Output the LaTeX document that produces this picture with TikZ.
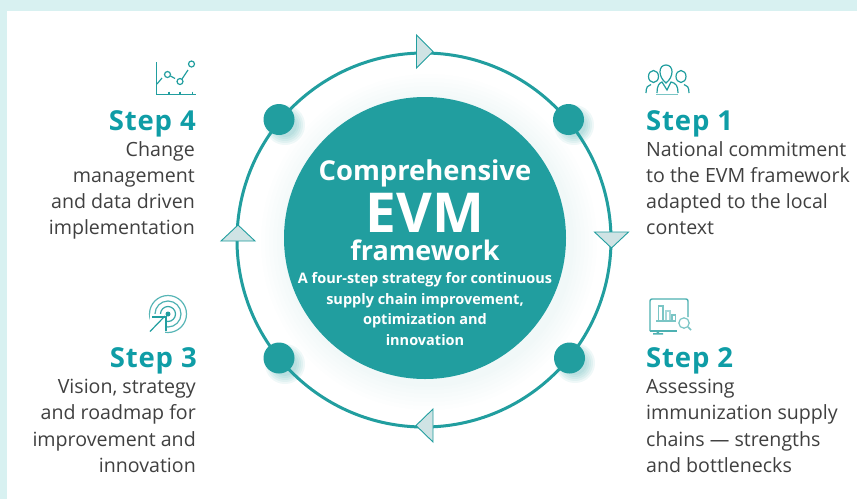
\documentclass[tikz,border=0pt]{standalone}
\usepackage{fontspec}
\setmainfont{Open Sans}
\newfontfamily\stepfont[LetterSpace=3]{Open Sans}
\usetikzlibrary{shapes.geometric}
\definecolor{teal1}{HTML}{219E9F}
\definecolor{band}{HTML}{D8F1F1}
\definecolor{tri}{HTML}{CFE3E4}
\definecolor{body}{HTML}{404040}
\definecolor{stepc}{HTML}{0F9DA6}
\tikzset{
  ring/.style={circle,draw=teal1,line width=3pt,minimum size=374pt,inner sep=0pt},
  disc/.style={circle,fill=teal1,minimum size=282pt,inner sep=0pt},
  dot/.style={circle,fill=teal1,minimum size=31pt,inner sep=0pt},
  steptitle/.style={font=\stepfont\bfseries\fontsize{27.5}{27.5}\selectfont,text=stepc,inner sep=0pt},
  bodyR/.style={font=\fontsize{19.6}{26.3}\selectfont,text=body,align=right,anchor=north east,inner sep=0pt},
  bodyL/.style={font=\fontsize{19.6}{26.3}\selectfont,text=body,align=left,anchor=north west,inner sep=0pt},
  tritri/.style={fill=tri,draw=teal1,line width=0.9pt,line join=miter},
  icon/.style={draw=teal1,line width=1.2pt,fill=none},
  iconl/.style={draw=teal1!60,line width=1.2pt,fill=none},
  dtext/.style={text=white,font=\bfseries,inner sep=0pt,align=center},
}
\begin{document}
\begin{tikzpicture}[x=1pt,y=-1pt]
\useasboundingbox (0,0) rectangle (857,499);
\fill[band] (0,0) rectangle (857,499);
\fill[white] (7,11) rectangle (857,499);
% disc glow
\foreach \r in {168,164,160,156,152,148,145}{\fill[teal1,opacity=0.008] (429,242) circle (\r pt);}
% ring
\node[ring] (ringc) at (424,240) {};
% dot shadows
\foreach \p in {(574,125),(575,363),(285,364),(285,125)}{
 \foreach \r in {20,18,16,14,12}{\fill[teal1,opacity=0.07] \p circle (\r pt);}
}
\node[disc] (core) at (425,238) {};
\node[dot] (d1) at (568.5,119.5) {};
\node[dot] (d2) at (569.5,358) {};
\node[dot] (d3) at (279,358) {};
\node[dot] (d4) at (279,119.5) {};
% triangles
\fill[tritri] (416.5,35) -- (433,51.5) -- (416.5,68) -- cycle;
\fill[tritri] (594.5,232) -- (628.5,232) -- (611.5,248) -- cycle;
\fill[tritri] (433,409) -- (433,442) -- (416,425.5) -- cycle;
\fill[tritri] (221,241) -- (255,241) -- (238,225) -- cycle;
% centre text
\node[dtext,font=\bfseries\fontsize{27.4}{27.4}\selectfont] (t1) at (425,173) {Comprehensive};
\node[dtext,font=\bfseries\fontsize{55}{55}\selectfont,text height=39pt,text depth=0pt,anchor=base] (t2) at (425,232) {EVM};
\node[dtext,font=\bfseries\fontsize{27}{27}\selectfont] (t3) at (425,250) {framework};
\node[dtext,font=\bfseries\fontsize{14.5}{20.7}\selectfont] (t4) at (425,309) {A four-step strategy for continuous\\supply chain improvement,\\optimization and\\innovation};
% step text
\node[steptitle,anchor=east] (s4) at (196,124) {Step 4};
\node[bodyR] (b4) at (195,141) {Change\\management\\and data driven\\implementation};
\node[steptitle,anchor=west] (s1) at (646,124) {Step 1};
\node[bodyL] (b1) at (646,141) {National commitment\\to the EVM framework\\adapted to the local\\context};
\node[steptitle,anchor=east] (s3) at (197,361) {Step 3};
\node[bodyR] (b3) at (196,379) {Vision, strategy\\and roadmap for\\improvement and\\innovation};
\node[steptitle,anchor=west] (s2) at (646,361) {Step 2};
\node[bodyL] (b2) at (646,379) {Assessing\\immunization supply\\chains — strengths\\and bottlenecks};
% icon step 4
\draw[icon] (156.5,62) -- (156.5,94.5) -- (196,94.5);
\draw[icon] (169,91.5)--(169,94.5) (180,91.5)--(180,94.5) (192.5,91.5)--(192.5,94.5);
\draw[icon] (157,84) -- (162,78);
\draw[icon] (167.5,74.5) circle (3);
\draw[icon] (180,81.5) circle (3);
\draw[icon] (191.5,64) circle (3);
\draw[icon] (170.5,76) -- (175,78.5) (182,79) -- (188,70);
% icon step 1
\draw[icon] (653.5,76.5) ellipse (5 and 6);
\draw[icon] (666,65) .. controls (658,65) and (658,77) .. (666,83) .. controls (674,77) and (674,65) .. (666,65);
\draw[icon] (681,76.5) ellipse (5 and 6);
\draw[icon] (646,93) .. controls (646,87) and (648,85) .. (651,84.5);
\draw[icon] (689,93) .. controls (689,87) and (687,85) .. (684,84.5);
\draw[icon] (657,93) .. controls (657,86) and (659,83) .. (662,82) -- (667,90) -- (671,82) .. controls (676,83) and (678,86) .. (678,93);
\draw[iconl] (656,94.5) -- (678,94.5);
% icon step 3
\foreach \r/\a in {18.5/0.75,13/0.8,7.5/0.9}{\draw[draw=teal1,opacity=\a,line width=1.2pt] (168,314) circle (\r);}
\fill[white] (150,314) rectangle (165,333);
\fill[teal1] (168,314) circle (2.5);
\draw[icon] (150,331.5) -- (165,316);
\draw[icon] (152,317) -- (166,317) -- (166,331);
% icon step 2
\draw[draw=teal1!80,line width=1.4pt,rounded corners=2pt] (650,331) -- (650,299) -- (688,299) -- (688,317);
\draw[draw=teal1!80,line width=1.4pt] (650,331) -- (677,331);
\fill[teal1!80] (653,333) rectangle (663,334.5) (656.5,331) rectangle (659,333);
\draw[iconl] (658.5,306) rectangle (663,321);
\draw[iconl,draw=teal1!40] (666,311) rectangle (670,321);
\draw[iconl,draw=teal1!60] (672,315) rectangle (675.5,321);
\draw[iconl] (656,321) -- (676,321);
\draw[iconl] (684,323) circle (5.2);
\draw[iconl,line width=1.5pt] (688,327) -- (691,330);
\end{tikzpicture}
\end{document}
